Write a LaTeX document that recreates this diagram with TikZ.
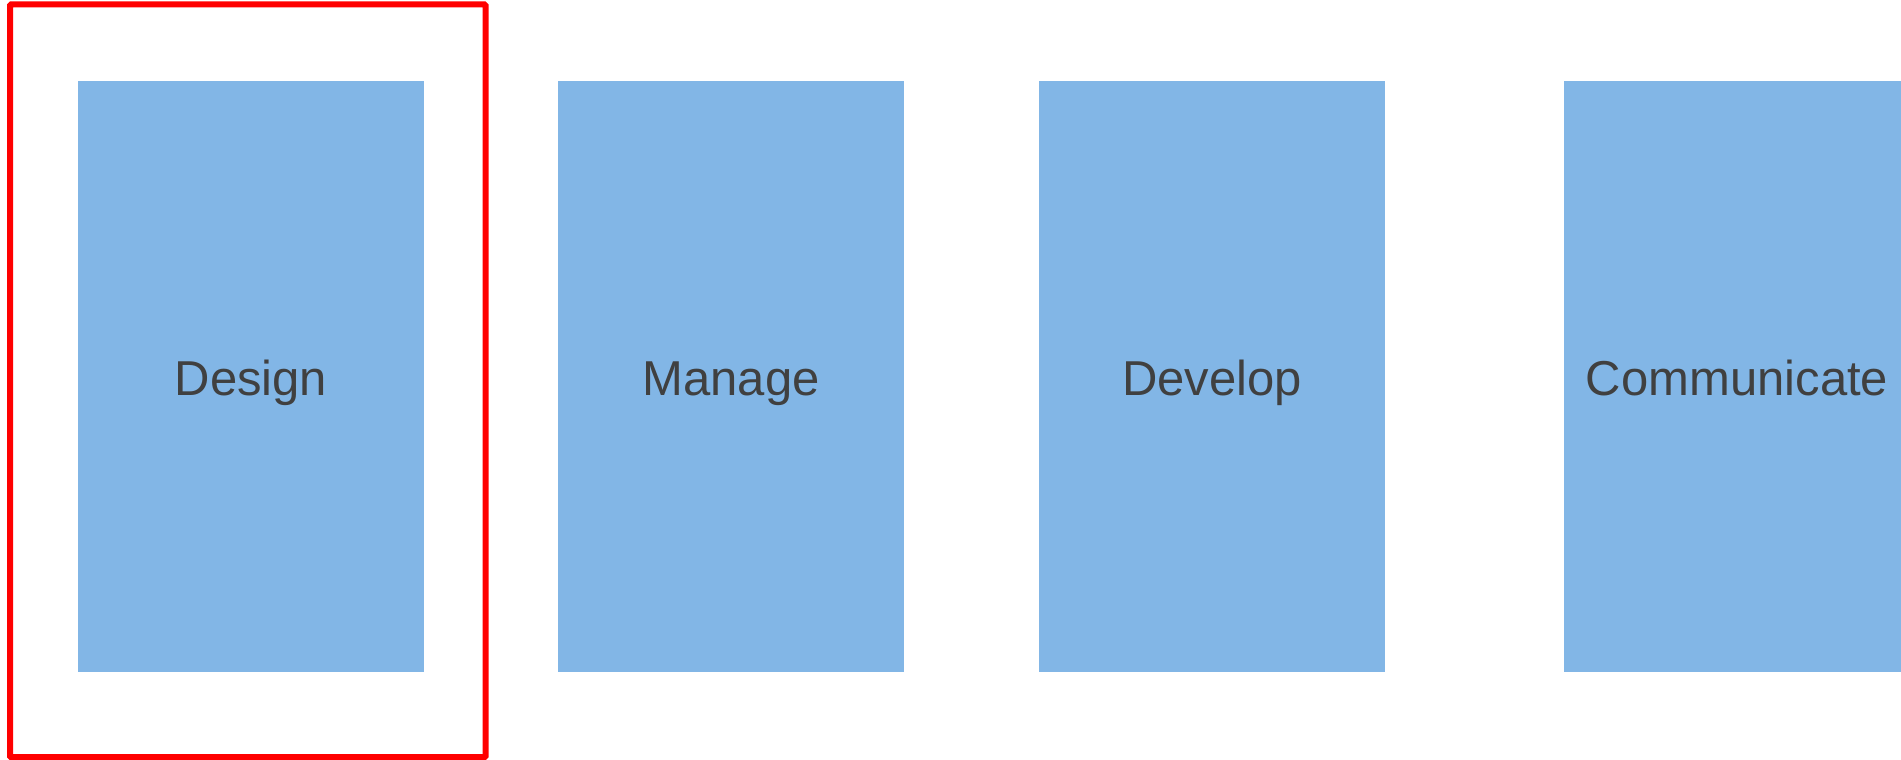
\documentclass[tikz,border=0pt]{standalone}
\usepackage{fontspec}
\setmainfont{Liberation Sans}
\usetikzlibrary{positioning}
\definecolor{stageblue}{RGB}{130,182,230}
\definecolor{stagetext}{RGB}{64,64,64}
\tikzset{
	stagebox/.style={fill=stageblue, draw=none, minimum width=346pt, minimum height=591pt,
		inner sep=0pt, text=stagetext, text height=37pt, text depth=0pt,
		font=\fontsize{49}{55}\selectfont},
	pickbox/.style={draw=red, line width=6pt, rounded corners=1pt}
}
\newcommand\Stage[4][]{
	\node[stagebox, #1] (#2) at (#3,-376.5) {#4};
	}

\begin{document}
\begin{tikzpicture}[x=1pt, y=1pt]
		\clip (0,0) rectangle (1901,-760);
		\Stage{design}{251}{Design}
		\Stage{manage}{731}{Manage}
		\Stage{develop}{1212}{Develop}
		\Stage{communicate}{1737}{Communicate}
		
		% selection frame round the first stage
		\coordinate (pickNW) at (10,-4.5);
		\coordinate (pickSE) at (485.5,-757);
		\draw[pickbox] (pickNW) rectangle (pickSE);
\end{tikzpicture}
\end{document}
